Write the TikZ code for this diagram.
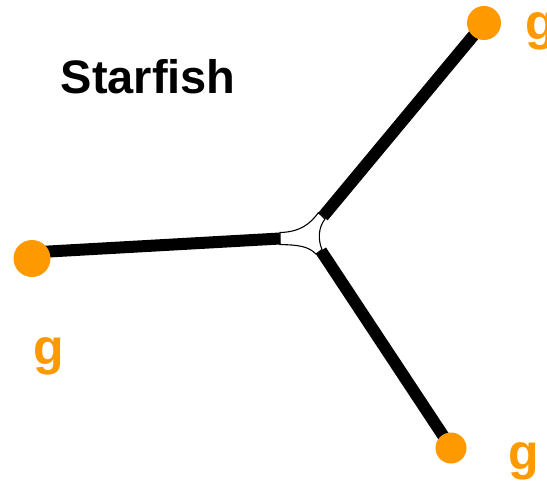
\documentclass[tikz,border=0pt]{standalone}
\usepackage{fontspec}
\setmainfont{Liberation Sans}
\definecolor{gorange}{HTML}{FF9900}
\begin{document}
\begin{tikzpicture}[x=1pt,y=-1pt,
  arm/.style={line width=12pt,black},
  blob/.style={circle,fill=gorange,inner sep=0pt},
  glabel/.style={anchor=base west,inner sep=0pt,text=gorange,font=\fontsize{50}{50}\selectfont\bfseries},
  core/.style={fill=white,draw=black,line width=1.1pt}]
\useasboundingbox (0,0) rectangle (547,482);
% core
\coordinate (Lc) at (280,238.5);
\coordinate (Tc) at (323,216.5);
\coordinate (Bc) at (321,250.8);
\draw[core] (280,232.5) .. controls (300,232) and (310,224) .. (318.4,212.7)
  -- (325,219) .. controls (318,228) and (318,240) .. (322,249.5)
  -- (316,254) .. controls (308,246) and (298,245) .. (280,244.5) -- cycle;
% arm ends under the blobs
\coordinate (L) at (40,252);
\coordinate (T) at (478,30);
\coordinate (B) at (446,440);
\draw[arm] (L) -- (Lc);
\draw[arm] (Tc) -- (T);
\draw[arm] (Bc) -- (B);
% blobs
\node[blob,minimum size=37pt] (gl) at (32,258.5) {};
\node[blob,minimum size=34pt] (gt) at (484,23) {};
\node[blob,minimum size=31pt] (gb) at (451,448) {};
% labels
\node[glabel] (lg) at (33,364.5) {g};
\node[glabel] (tg) at (525,39.5) {g};
\node[glabel] (bg) at (508,469.5) {g};
\node[anchor=base west,inner sep=0pt,font=\fontsize{47}{47}\selectfont\bfseries] (title) at (60.5,93) {Starfish};
\end{tikzpicture}
\end{document}
